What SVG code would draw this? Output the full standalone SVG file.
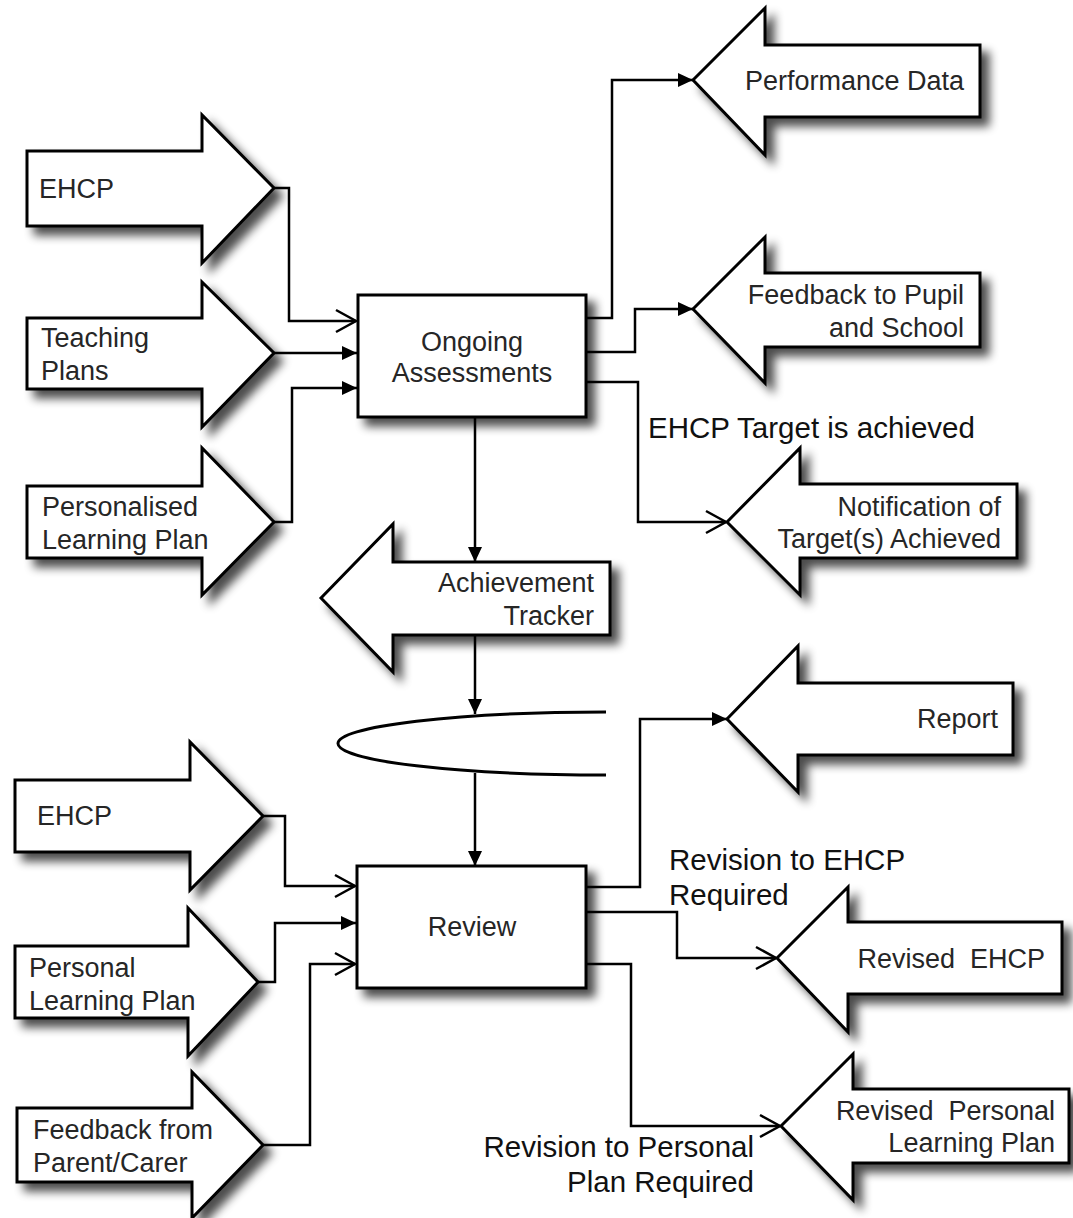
<svg xmlns="http://www.w3.org/2000/svg" width="1073" height="1218" viewBox="0 0 1073 1218">
<defs>
<filter id="sh" x="-15%" y="-15%" width="140%" height="140%">
<feGaussianBlur in="SourceAlpha" stdDeviation="5"/>
<feOffset dx="8" dy="8" result="o"/>
<feComponentTransfer><feFuncA type="linear" slope="0.7"/></feComponentTransfer>
<feMerge><feMergeNode/><feMergeNode in="SourceGraphic"/></feMerge>
</filter>
<marker id="fa" markerUnits="userSpaceOnUse" markerWidth="16" markerHeight="14" refX="15" refY="7" orient="auto" overflow="visible">
<path d="M0,0 L15,7 L0,14 z" fill="#000"/>
</marker>
<marker id="oa" markerUnits="userSpaceOnUse" markerWidth="22" markerHeight="24" refX="20" refY="11" orient="auto" overflow="visible">
<path d="M0,0 L20,11 L0,22" fill="none" stroke="#000" stroke-width="2.5"/>
</marker>
</defs>
<style>
.s{fill:#fff;stroke:#000;stroke-width:3;filter:url(#sh)}
.t{font-family:"Liberation Sans",Arial,sans-serif;font-size:27px;fill:#262626}
.r{text-anchor:end}
.l{font-family:"Liberation Sans",Arial,sans-serif;font-size:29.5px;fill:#111}
.c{fill:none;stroke:#000;stroke-width:2.5}
.f{marker-end:url(#fa)}
.o{marker-end:url(#oa)}
</style>
<rect width="1073" height="1218" fill="#fff"/>

<g id="in-ehcp-1"><polygon class="s" points="27,151 202,151 202,115 274,188 202,263 202,226 27,226"/><text class="t" x="39" y="198">EHCP</text></g>
<g id="in-teaching"><polygon class="s" points="27,318 202,318 202,282 274,353 202,427 202,389 27,389"/><text class="t" x="41" y="347">Teaching</text><text class="t" x="41" y="380">Plans</text></g>
<g id="in-plp"><polygon class="s" points="27,486 202,486 202,448 274,522 202,595 202,558 27,558"/><text class="t" x="42" y="516">Personalised</text><text class="t" x="42" y="549">Learning Plan</text></g>

<g id="ongoing"><rect class="s" x="358" y="295" width="228" height="122"/><text class="t" x="472" y="351" text-anchor="middle">Ongoing</text><text class="t" x="472" y="382" text-anchor="middle">Assessments</text></g>

<g id="out-perf"><polygon class="s" points="693,80 765,8 765,45 980,45 980,117 765,117 765,155"/><text class="t r" x="964" y="90">Performance Data</text></g>
<g id="out-feedback"><polygon class="s" points="693,309 765,237 765,273 980,273 980,347 765,347 765,383"/><text class="t r" x="964" y="304">Feedback to Pupil</text><text class="t r" x="964" y="337">and School</text></g>
<g id="out-notif"><polygon class="s" points="727,522 800,448 800,484 1017,484 1017,558 800,558 800,595"/><text class="t r" x="1001" y="516">Notification of</text><text class="t r" x="1001" y="548">Target(s) Achieved</text></g>

<g id="tracker"><polygon class="s" points="321,598 393,524 393,562 610,562 610,635 393,635 393,672"/><text class="t r" x="594" y="592">Achievement</text><text class="t r" x="594" y="625">Tracker</text></g>

<g id="decision"><path d="M606,712 A268,31.5 0 0 0 606,775" fill="#fff" stroke="#000" stroke-width="3"/></g>

<g id="in-ehcp-2"><polygon class="s" points="15,780 190,780 190,742 263,816 190,890 190,852 15,852"/><text class="t" x="37" y="825">EHCP</text></g>
<g id="in-plp-2"><polygon class="s" points="15,946 188,946 188,908 258,982 188,1056 188,1018 15,1018"/><text class="t" x="29" y="977">Personal</text><text class="t" x="29" y="1010">Learning Plan</text></g>
<g id="in-parent"><polygon class="s" points="17,1108 192,1108 192,1072 263,1145 192,1218 192,1182 17,1182"/><text class="t" x="33" y="1139">Feedback from</text><text class="t" x="33" y="1172">Parent/Carer</text></g>

<g id="review"><rect class="s" x="357" y="866" width="229" height="122"/><text class="t" x="472" y="936" text-anchor="middle">Review</text></g>

<g id="out-report"><polygon class="s" points="727,719 798,646 798,683 1013,683 1013,755 798,755 798,792"/><text class="t r" x="998" y="728">Report</text></g>
<g id="out-rev-ehcp"><polygon class="s" points="777,958 848,887 848,922 1062,922 1062,994 848,994 848,1032"/><text class="t r" x="1045" y="968" xml:space="preserve">Revised  EHCP</text></g>
<g id="out-rev-plp"><polygon class="s" points="781,1126 853,1054 853,1089 1069,1089 1069,1163 853,1163 853,1200"/><text class="t r" x="1055" y="1120" xml:space="preserve">Revised  Personal</text><text class="t r" x="1055" y="1152">Learning Plan</text></g>

<g id="labels">
<text class="l" x="648" y="438">EHCP Target is achieved</text>
<text class="l" x="669" y="870">Revision to EHCP</text>
<text class="l" x="669" y="905">Required</text>
<text class="l r" x="754" y="1157">Revision to Personal</text>
<text class="l r" x="754" y="1192">Plan Required</text>
</g>

<g id="connectors">
<path class="c o" d="M274,188 H289 V321 H356"/>
<path class="c f" d="M274,353 H357"/>
<path class="c f" d="M274,522 H292 V388 H357"/>
<path class="c f" d="M586,318 H612 V80 H693"/>
<path class="c f" d="M586,352 H635 V309 H693"/>
<path class="c o" d="M586,382 H638 V522 H726"/>
<path class="c f" d="M475,417 V562"/>
<path class="c f" d="M475,635 V714"/>
<path class="c f" d="M475,773 V866"/>
<path class="c o" d="M263,816 H285 V886 H355"/>
<path class="c f" d="M258,982 H275 V923 H356"/>
<path class="c o" d="M263,1145 H310 V964 H355"/>
<path class="c f" d="M586,887 H640 V719 H727"/>
<path class="c o" d="M586,912 H677 V958 H776"/>
<path class="c o" d="M586,964 H631 V1126 H780"/>
</g>
</svg>
